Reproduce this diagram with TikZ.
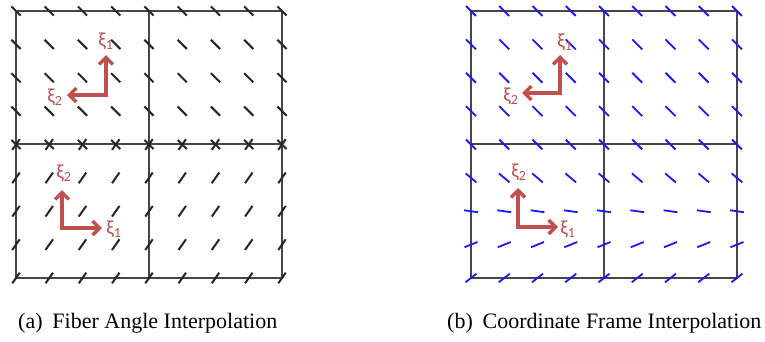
\documentclass[tikz,border=0pt]{standalone}
\usepackage{fontspec}
\setmainfont{Liberation Serif}
\newfontfamily\axisfont{Carlito}
\usetikzlibrary{arrows.meta}

\definecolor{axisred}{RGB}{192,80,77}
\definecolor{gridgray}{RGB}{70,70,70}
\definecolor{fiberblue}{RGB}{25,25,240}

\begin{document}
\begin{tikzpicture}[
    x=1pt, y=-1pt,
    grid/.style={draw=gridgray, line width=1.6pt},
    fiber/.style={line width=2pt, black!85},
    bluefiber/.style={line width=1.8pt, fiberblue},
    axis/.style={{Straight Barb[length=7pt,width=14pt]}-{Straight Barb[length=7pt,width=14pt]}, axisred, line width=3.4pt, line join=miter},
    xilabel/.style={text=axisred, font=\axisfont\fontsize{20}{20}\selectfont, inner sep=0pt},
    caption/.style={font=\fontsize{22}{24}\selectfont, anchor=base west, inner sep=0pt}
]
\useasboundingbox (0,0) rectangle (765,341);

% (a) grid
\draw[grid] (16,11) rectangle (282,278);
\draw[grid] (149,11) -- (149,278);
\draw[grid] (16,144) -- (282,144);

% (a) fibers: one angle per element
\foreach \i in {0,...,8}{
  \foreach \j in {0,...,4}
    \draw[fiber, shift={(16+33.25*\i,11+33.375*\j)}, rotate=-45] (-6.5,0) -- (6.5,0);
  \foreach \j in {4,...,8}
    \draw[fiber, shift={(16+33.25*\i,11+33.375*\j)}, rotate=55] (-6.5,0) -- (6.5,0);
}

% (b) grid
\draw[grid] (471,11) rectangle (737,278);
\draw[grid] (604,11) -- (604,278);
\draw[grid] (471,144) -- (737,144);

% (b) fibers: rotated frames
\foreach \j/\a in {0/-45,1/-45,2/-45,3/-45,4/-45,5/-40,6/-8,7/22,8/38}{
  \foreach \i in {0,...,8}
    \draw[bluefiber, shift={(471+33.25*\i,11+33.375*\j)}, rotate=\a] (-7,0) -- (7,0);
}

% local axes
\coordinate (aTo) at (106,95);
\coordinate (aTu) at (106,55);
\coordinate (aTl) at (67,95);
\coordinate (aBo) at (62,228);
\coordinate (aBu) at (62,190);
\coordinate (aBr) at (102,228);
\coordinate (bTo) at (560,93);
\coordinate (bTu) at (560,55);
\coordinate (bTl) at (522,93);
\coordinate (bBo) at (518,227);
\coordinate (bBu) at (518,188);
\coordinate (bBr) at (558,227);

\draw[axis] (aTu) -- (aTo) -- (aTl);
\draw[axis] (aBu) -- (aBo) -- (aBr);
\draw[axis] (bTu) -- (bTo) -- (bTl);
\draw[axis] (bBu) -- (bBo) -- (bBr);

\node[xilabel] (aTxi1) at (106,41) {ξ\textsubscript{1}};
\node[xilabel] (aTxi2) at (55,97) {ξ\textsubscript{2}};
\node[xilabel] (aBxi2) at (64,173) {ξ\textsubscript{2}};
\node[xilabel] (aBxi1) at (114,229) {ξ\textsubscript{1}};
\node[xilabel] (bTxi1) at (565,42) {ξ\textsubscript{1}};
\node[xilabel] (bTxi2) at (511,96) {ξ\textsubscript{2}};
\node[xilabel] (bBxi2) at (519,172) {ξ\textsubscript{2}};
\node[xilabel] (bBxi1) at (568,229) {ξ\textsubscript{1}};

% captions
\node[caption] (capa) at (18,328) {(a)\hspace{0.45em}Fiber Angle Interpolation};
\node[caption] (capb) at (447,328) {(b)\hspace{0.45em}Coordinate Frame Interpolation};

\end{tikzpicture}
\end{document}
